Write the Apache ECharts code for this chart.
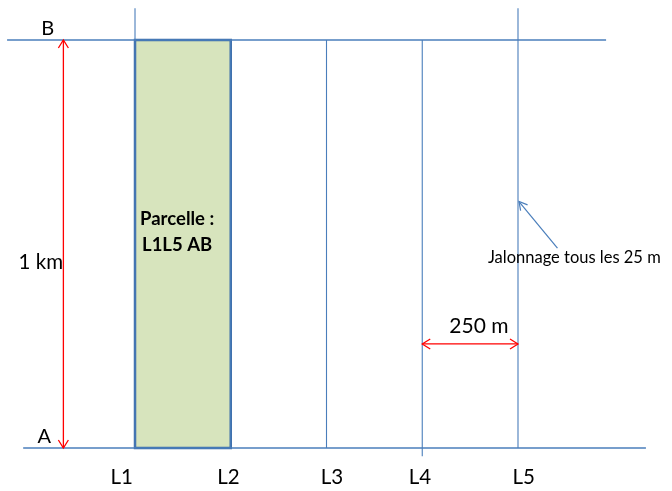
<!DOCTYPE html>
<html>
<head>
<meta charset="utf-8">
<script src="https://cdn.jsdelivr.net/npm/echarts@6/dist/echarts.min.js"></script>
<style>html,body{margin:0;padding:0;background:#fff}#chart{width:672px;height:491px}</style>
</head>
<body>
<div id="chart"></div>
<script>
// ---- data (metres) ----
const lineNames = ['L1', 'L2', 'L3', 'L4', 'L5'];
const lineOffsets = [0, 250, 500, 750, 1000];
const lineTops = [1078, 1000, 1000, 1000, 1078];
const lineBottoms = [0, 0, 0, -20, 0];
const lineLabelX = [-35, 244, 514, 744, 1015];
const baseNames = ['A', 'B'];
const baseOffsets = [0, 1000];
const baseStarts = [-292, -334];
const baseEnds = [1334, 1230];
const parcelName = 'Parcelle :\nL1L5 AB';
const parcelFrom = 0, parcelTo = 250;
const lengthLabel = '1 km';
const widthLabel = '250 m';
const stakingLabel = 'Jalonnage tous les 25 m';

const FONT = 'Lato, "Noto Sans", sans-serif';
const BLUE = '#4a7ebb';
const RED = '#ff0000';

function arrowHead(tip, from, len, half) {
  const dx = tip[0] - from[0], dy = tip[1] - from[1];
  const L = Math.sqrt(dx * dx + dy * dy) || 1;
  const ux = dx / L, uy = dy / L;
  const bx = tip[0] - ux * len, by = tip[1] - uy * len;
  const nx = -uy, ny = ux;
  return [[bx + nx * half, by + ny * half], [tip[0], tip[1]], [bx - nx * half, by - ny * half]];
}

function textEl(api, pos, text, size, opts) {
  const p = api.coord(pos);
  return {
    type: 'text',
    x: p[0], y: p[1],
    style: Object.assign({
      text: text, fill: '#000', fontSize: size, fontFamily: FONT,
      align: 'center', verticalAlign: 'middle'
    }, opts || {})
  };
}

const chart = echarts.init(document.getElementById('chart'), null, { renderer: 'canvas' });

const option = {
  animation: false,
  grid: { left: 0, right: 0, top: 0, bottom: 0 },
  xAxis: { type: 'value', min: -352.5, max: 1402.1, show: false },
  yAxis: { type: 'value', min: -105.4, max: 1098, show: false },
  series: [
    // parcel rectangle
    {
      type: 'custom', clip: false, silent: true,
      data: [0],
      renderItem: function (params, api) {
        const p0 = api.coord([parcelFrom, 1000]);
        const p1 = api.coord([parcelTo, 0]);
        return {
          type: 'group', children: [
            { type: 'rect', shape: { x: p0[0], y: p0[1], width: p1[0] - p0[0], height: p1[1] - p0[1] },
              style: { fill: '#d7e4bd', stroke: '#3d6ca8', lineWidth: 2.5 } },
            textEl(api, [110, 529], parcelName, 18.5, { fontWeight: 'bold', lineHeight: 26 })
          ]
        };
      }
    },
    // baselines A and B
    {
      type: 'custom', clip: false, silent: true,
      data: baseNames.map((n, i) => i),
      renderItem: function (params, api) {
        const i = params.dataIndex;
        const a = api.coord([baseStarts[i], baseOffsets[i]]);
        const b = api.coord([baseEnds[i], baseOffsets[i]]);
        return { type: 'line', shape: { x1: a[0], y1: a[1], x2: b[0], y2: b[1] },
                 style: { stroke: BLUE, lineWidth: 1.3 } };
      }
    },
    // vertical lines L1..L5
    {
      type: 'custom', clip: false, silent: true,
      data: lineNames.map((n, i) => i),
      renderItem: function (params, api) {
        const i = params.dataIndex;
        const a = api.coord([lineOffsets[i], lineTops[i]]);
        const b = api.coord([lineOffsets[i], lineBottoms[i]]);
        return {
          type: 'group', children: [
            { type: 'line', shape: { x1: a[0], y1: a[1], x2: b[0], y2: b[1] },
              style: { stroke: BLUE, lineWidth: 1.1 } },
            textEl(api, [lineLabelX[i], -71], lineNames[i], 20.5)
          ]
        };
      }
    },
    // red arrows + labels, annotation
    {
      type: 'custom', clip: false, silent: true,
      data: [0],
      renderItem: function (params, api) {
        const v0 = api.coord([-187, 0]), v1 = api.coord([-187, 1000]);
        const h0 = api.coord([750, 255]), h1 = api.coord([1000, 255]);
        const t0 = api.coord([1103, 490]), t1 = api.coord([1002.6, 604]);
        const red = { stroke: RED, lineWidth: 1.3, fill: null };
        const blue = { stroke: BLUE, lineWidth: 1.2, fill: null };
        return {
          type: 'group', children: [
            { type: 'line', shape: { x1: v0[0], y1: v0[1], x2: v1[0], y2: v1[1] }, style: red },
            { type: 'polyline', shape: { points: arrowHead(v1, v0, 8, 5) }, style: red },
            { type: 'polyline', shape: { points: arrowHead(v0, v1, 8, 5) }, style: red },
            { type: 'line', shape: { x1: h0[0], y1: h0[1], x2: h1[0], y2: h1[1] }, style: red },
            { type: 'polyline', shape: { points: arrowHead(h1, h0, 8, 5) }, style: red },
            { type: 'polyline', shape: { points: arrowHead(h0, h1, 8, 5) }, style: red },
            { type: 'line', shape: { x1: t0[0], y1: t0[1], x2: t1[0], y2: t1[1] }, style: blue },
            { type: 'polyline', shape: { points: arrowHead(t1, t0, 8, 4.5) }, style: blue },
            textEl(api, [-246, 456], lengthLabel, 20.5),
            textEl(api, [898, 299], widthLabel, 21),
            textEl(api, [-228, 1029], baseNames[1], 20),
            textEl(api, [-237, 27], baseNames[0], 20),
            textEl(api, [921.5, 466], stakingLabel, 16.5, { align: 'left' })
          ]
        };
      }
    }
  ]
};
chart.setOption(option);
</script>
</body>
</html>
